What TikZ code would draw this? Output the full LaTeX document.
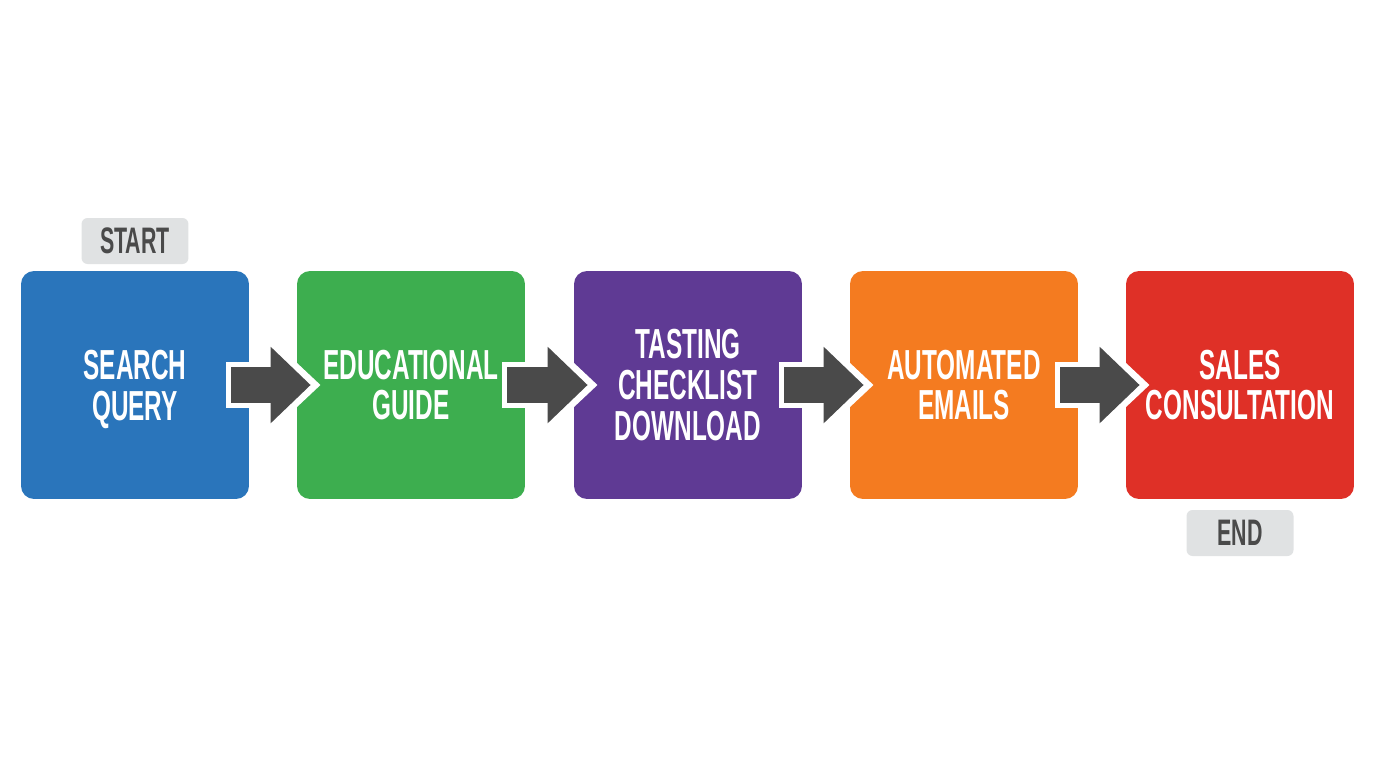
\documentclass[tikz,border=0pt]{standalone}
\usepackage{fontspec}
\usepackage{xcolor}
\usetikzlibrary{arrows.meta}
\newfontfamily\narrowbold[FakeStretch=0.58]{Liberation Sans Bold}
\definecolor{queryblue}{RGB}{42,117,187}
\definecolor{guidegreen}{RGB}{61,174,79}
\definecolor{checkpurple}{RGB}{95,58,148}
\definecolor{emailorange}{RGB}{244,123,32}
\definecolor{salesred}{RGB}{223,48,39}
\definecolor{tagfill}{RGB}{224,226,227}
\definecolor{arrowgray}{RGB}{74,74,74}
\tikzset{
    stagebox/.style={rounded corners=0.26cm, minimum width=4.56cm, minimum height=4.56cm, inner sep=0pt,
        text=white, align=center, font=\narrowbold\fontsize{23.9}{23.2}\selectfont},
    endtag/.style={fill=tagfill, rounded corners=0.12cm, minimum width=2.14cm, minimum height=0.92cm, inner sep=0pt,
        text=arrowgray, font=\narrowbold\fontsize{21}{21}\selectfont},
    arrowback/.style={white, line width=0.92cm, line join=miter, shorten <=-0.46cm, shorten >=-0.48cm,
        -{Triangle[length=1.16cm, width=2.1cm]}},
    arrowfront/.style={arrowgray, line width=0.72cm, line join=miter, shorten <=-0.36cm, shorten >=-0.28cm,
        -{Triangle[length=0.8cm, width=1.48cm]}}
}
\begin{document}
\begin{tikzpicture}[x=0.02cm, y=-0.02cm]
    \useasboundingbox (0,0) rectangle (1376,768);

    % Stages
    \node[stagebox, fill=queryblue] (query) at (135,385) {SEARCH\\\smash{QUERY}};
    \node[stagebox, fill=guidegreen] (guide) at (411,385) {EDUCATIONAL\\GUIDE};
    \node[stagebox, fill=checkpurple] (checklist) at (688,385) {TASTING\\CHECKLIST\\DOWNLOAD};
    \node[stagebox, fill=emailorange] (emails) at (964,385) {AUTOMATED\\EMAILS};
    \node[stagebox, fill=salesred] (sales) at (1240,385) {SALES\\CONSULTATION};

    % Start and end tags
    \node[endtag] (start) at (135,241) {START};
    \node[endtag] (end) at (1240,533) {END};

    % Arrows
    \draw[arrowback] (query.east) -- (guide.west);
    \draw[arrowfront] (query.east) -- (guide.west);
    \draw[arrowback] (guide.east) -- (checklist.west);
    \draw[arrowfront] (guide.east) -- (checklist.west);
    \draw[arrowback] (checklist.east) -- (emails.west);
    \draw[arrowfront] (checklist.east) -- (emails.west);
    \draw[arrowback] (emails.east) -- (sales.west);
    \draw[arrowfront] (emails.east) -- (sales.west);
\end{tikzpicture}
\end{document}
